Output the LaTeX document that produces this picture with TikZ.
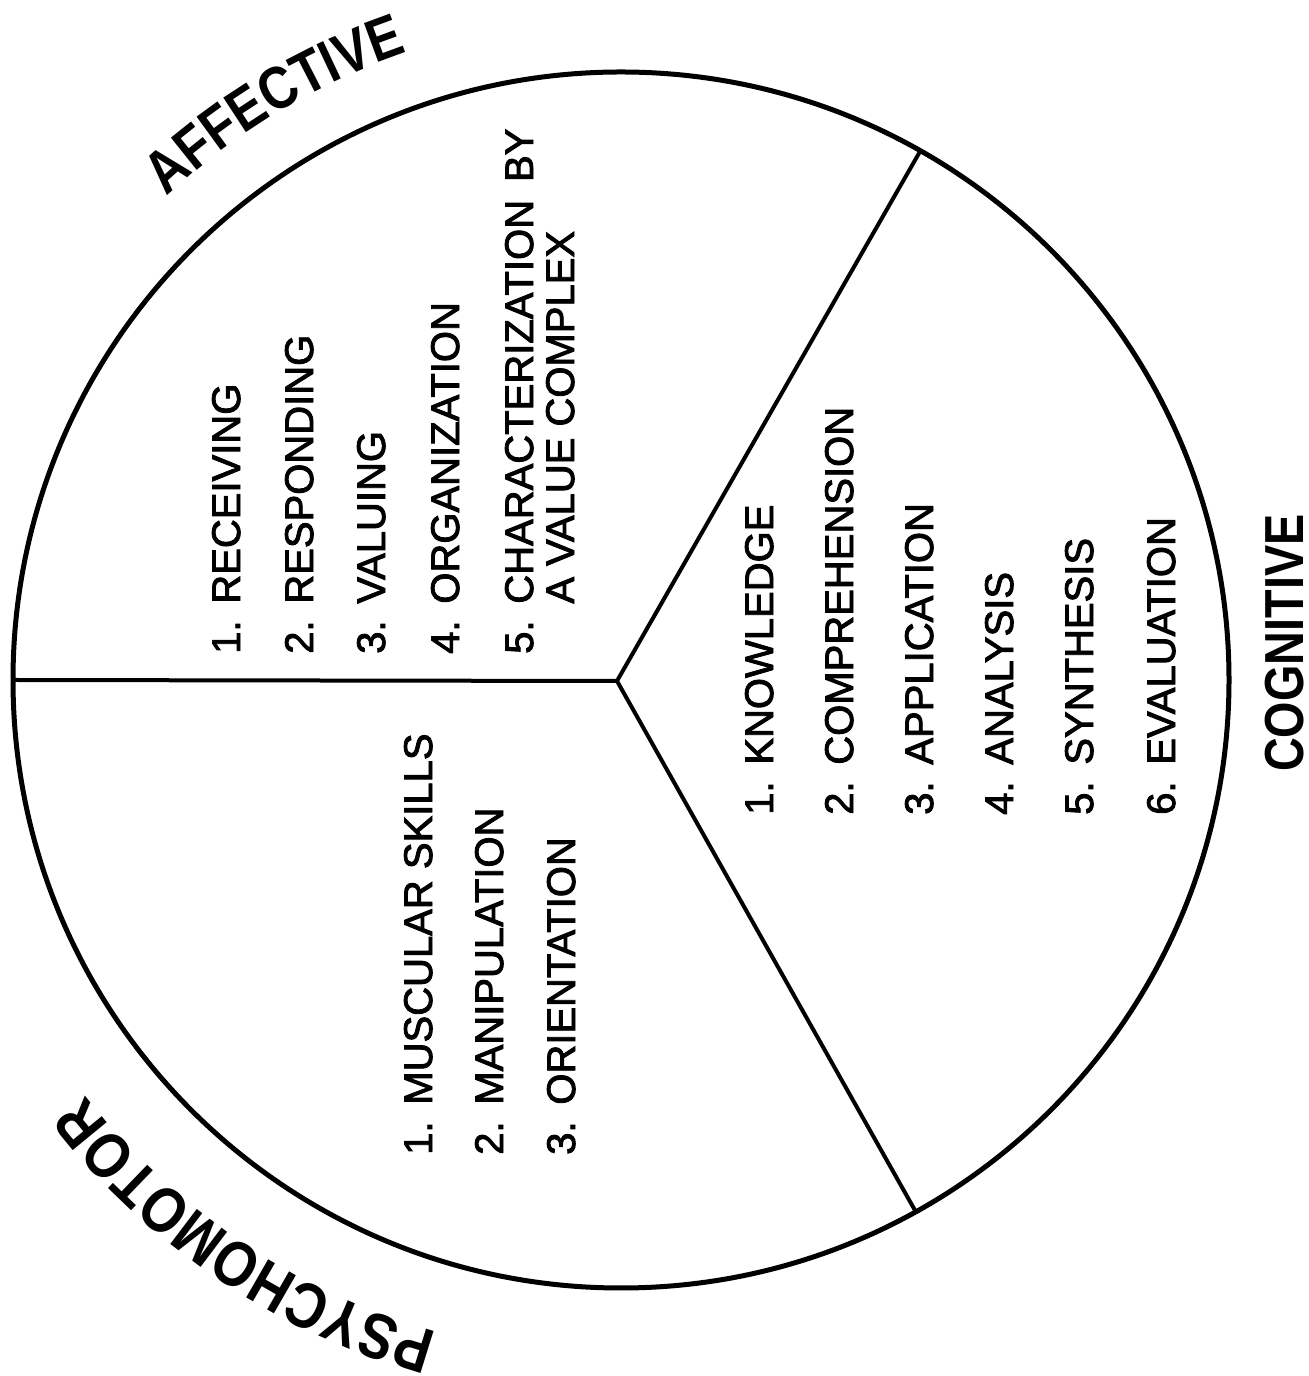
\documentclass[tikz,border=0pt]{standalone}
\usepackage{fontspec}
\setmainfont{Liberation Sans}[FakeBold=2.2]
\newfontfamily\ringfont{Liberation Sans}[FakeStretch=0.85]
\usetikzlibrary{decorations.text}
\newcommand\numgap{\hspace{0.42em}}
\begin{document}
\begin{tikzpicture}[x=1pt,y=1pt,
  item/.style={rotate=90, anchor=base west, inner sep=0pt, font=\fontsize{40}{41}\selectfont},
  domainlabel/.style={rotate=90, anchor=base west, inner sep=0pt, font=\ringfont\bfseries\fontsize{55}{60}\selectfont},
  divider/.style={line width=4pt},
  rim/.style={line width=5pt}]
\useasboundingbox (0,0) rectangle (1309,1376);
\coordinate (C) at (621,696);
\coordinate (hub) at (617,695);
\coordinate (pL) at ([shift={(C)}]180:608);
\coordinate (pU) at ([shift={(C)}]60.5:608);
\coordinate (pD) at ([shift={(C)}]-61:608);
\draw[rim] (C) circle (608);
\draw[divider] (hub) -- (pL);
\draw[divider] (hub) -- (pU);
\draw[divider] (hub) -- (pD);

% Affective items
\node[item] (a1) at (240,722) {1.\numgap RECEIVING};
\node[item] (a2) at (313,722) {2.\numgap RESPONDING};
\node[item] (a3) at (385,722) {3.\numgap VALUING};
\node[item] (a4) at (459,722) {4.\numgap ORGANIZATION};
\node[item] (a5) at (533,722) {5.\numgap\begin{tabular}[t]{@{}l@{}}CHARACTERIZATION\hspace{0.45em}BY\\A VALUE COMPLEX\end{tabular}};

% Cognitive items
\node[item] (c1) at (773,561) {1.\numgap KNOWLEDGE};
\node[item] (c2) at (853,561) {2.\numgap COMPREHENSION};
\node[item] (c3) at (933,561) {3.\numgap APPLICATION};
\node[item] (c4) at (1013,561) {4.\numgap ANALYSIS};
\node[item] (c5) at (1093,561) {5.\numgap SYNTHESIS};
\node[item] (c6) at (1175,561) {6.\numgap EVALUATION};

% Psychomotor items
\node[item] (p1) at (432,221) {1.\numgap MUSCULAR SKILLS};
\node[item] (p2) at (503,221) {2.\numgap MANIPULATION};
\node[item] (p3) at (575,221) {3.\numgap ORIENTATION};

% Domain labels
\node[domainlabel] (cog) at (1303,604) {COGNITIVE};
\path[decorate, decoration={text along path, text align=center,
  text={|\ringfont\bfseries\fontsize{60}{60}\selectfont|AFFECTIVE}}]
  ([shift={(C)}]142:663) arc[start angle=142, end angle=100, radius=663];
\path[decorate, decoration={text along path, text align=center,
  text={|\ringfont\bfseries\fontsize{64}{64}\selectfont|PSYCHOMOTOR}}]
  ([shift={(C)}]260:678) arc[start angle=260, end angle=212, radius=678];
\end{tikzpicture}
\end{document}
